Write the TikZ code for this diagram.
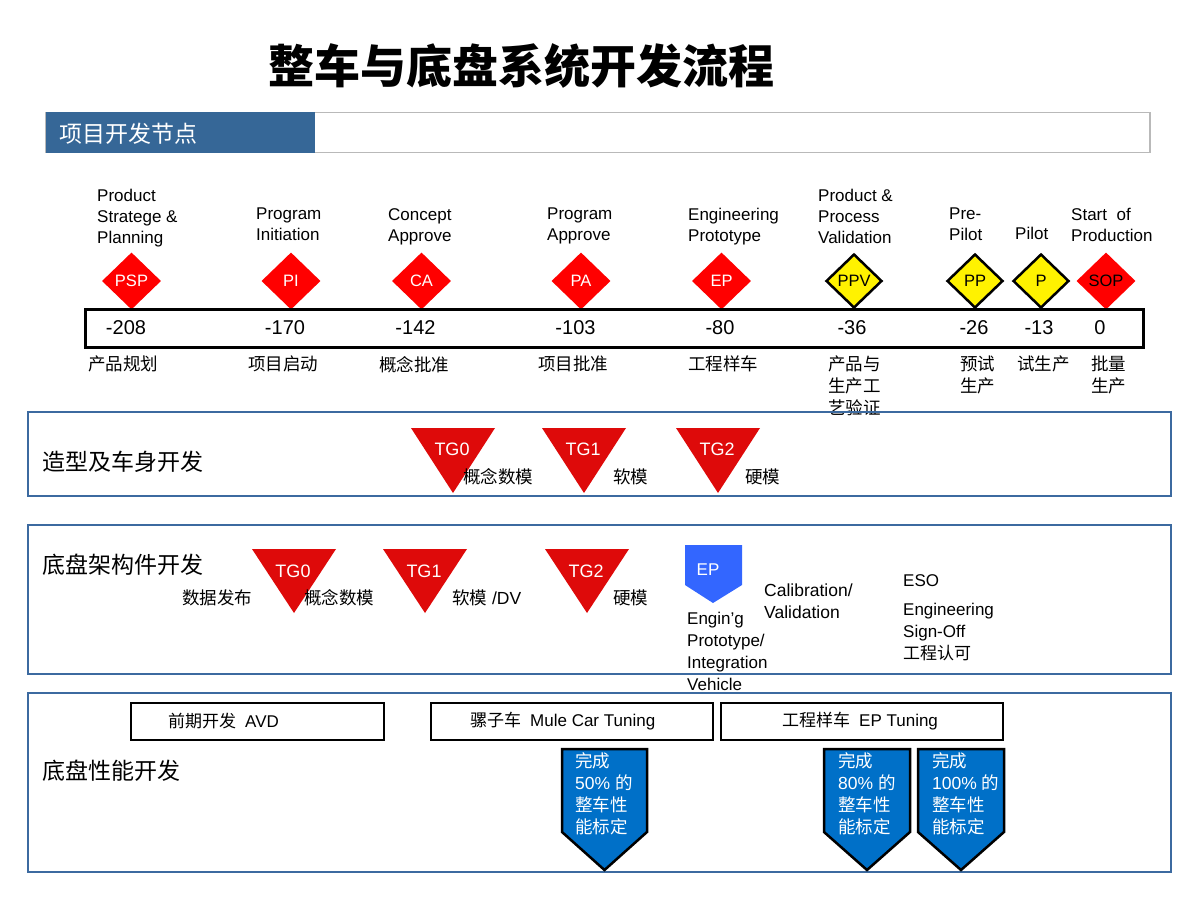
\documentclass[tikz,border=0pt]{standalone}
\usepackage{fontspec}
\setmainfont{Liberation Sans}
\newfontfamily\cjk{Noto Sans CJK SC}
\usetikzlibrary{shapes.geometric}
\definecolor{hdrblue}{RGB}{54,103,151}
\definecolor{secblue}{RGB}{60,106,160}
\definecolor{tgred}{RGB}{222,10,10}
\definecolor{epblue}{RGB}{51,102,255}
\definecolor{calblue}{RGB}{0,112,200}
\definecolor{hdrgray}{RGB}{185,185,185}
\begin{document}
\begin{tikzpicture}[x=1pt,y=-1pt,
  lbl/.style={inner sep=0,anchor=north west,align=left,font=\fontsize{17}{21}\selectfont},
  zhlbl/.style={inner sep=0,anchor=north west,align=left,font=\cjk\fontsize{17.5}{22}\selectfont},
  num/.style={inner sep=0,font=\fontsize{20}{24}\selectfont},
  msred/.style={diamond,fill=red,minimum width=59,minimum height=57,inner sep=0,text=white,font=\fontsize{16.5}{18}\selectfont},
  msyel/.style={diamond,fill=yellow,draw=black,line width=2.5,minimum width=56,minimum height=54,inner sep=0,text=black,font=\fontsize{16.5}{18}\selectfont},
  secbox/.style={draw=secblue,line width=2.5},
  seclbl/.style={inner sep=0,anchor=west,font=\cjk\fontsize{23}{26}\selectfont},
  tgshape/.style={fill=tgred},
  tgtxt/.style={inner sep=0,text=white,font=\fontsize{18}{20}\selectfont},
  tglbl/.style={inner sep=0,anchor=west,font=\fontsize{17.5}{22}\selectfont},
  barbox/.style={draw=black,line width=2.5},
  bartxt/.style={inner sep=0,anchor=west,font=\fontsize{17}{21}\selectfont},
  calarrow/.style={fill=calblue,draw=black,line width=2.5,line join=miter},
  caltxt/.style={inner sep=0,anchor=north west,align=left,text=white,font=\fontsize{17.5}{22}\selectfont}
]
\useasboundingbox (0,0) rectangle (1200,900);

% title
\node[font=\cjk\bfseries\fontsize{46}{50}\selectfont] (title) at (521,66) {整车与底盘系统开发流程};

% header bar
\draw[hdrgray,line width=1.5] (46,112.5) rectangle (1150,152.5);
\fill[hdrblue] (46,112) rectangle (315,153);
\node[anchor=west,inner sep=0,text=white,font=\cjk\fontsize{23}{26}\selectfont] (hdr) at (59,134) {项目开发节点};

% milestone labels
\node[lbl] (l1) at (97,189) {Product\\Stratege \&\\Planning};
\node[lbl] (l2) at (256,208) {Program\\Initiation};
\node[lbl] (l3) at (388,208) {Concept\\Approve};
\node[lbl] (l4) at (547,208) {Program\\Approve};
\node[lbl] (l5) at (688,208) {Engineering\\Prototype};
\node[lbl] (l6) at (818,189) {Product \&\\Process\\Validation};
\node[lbl] (l7) at (949,208) {Pre-\\Pilot};
\node[lbl] (l8) at (1015,227) {Pilot};
\node[lbl] (l9) at (1071,208) {Start\ \ of\\Production};

% milestone diamonds
\node[msred] (psp) at (131.5,281) {PSP};
\node[msred] (pi) at (291,281) {PI};
\node[msred] (ca) at (421.5,281) {CA};
\node[msred] (pa) at (581,281) {PA};
\node[msred] (ep) at (721.5,281) {EP};
\node[msyel] (ppv) at (854,281) {PPV};
\node[msyel] (pp) at (975,281) {PP};
\node[msyel] (p) at (1041,281) {P};
\node[msred,text=black] (sop) at (1106,281) {SOP};

% timeline box
\draw[black,line width=3] (85,309) rectangle (1143,347);
\node[num] (n1) at (126,328) {-208};
\node[num] (n2) at (285,328) {-170};
\node[num] (n3) at (415.5,328) {-142};
\node[num] (n4) at (575.5,328) {-103};
\node[num] (n5) at (720,328) {-80};
\node[num] (n6) at (852,328) {-36};
\node[num] (n7) at (974,328) {-26};
\node[num] (n8) at (1039,328) {-13};
\node[num] (n9) at (1100,328) {0};

% chinese labels
\node[zhlbl] (z1) at (88,356) {产品规划};
\node[zhlbl] (z2) at (248,356) {项目启动};
\node[zhlbl] (z3) at (379,356) {概念批准};
\node[zhlbl] (z4) at (538,356) {项目批准};
\node[zhlbl] (z5) at (688,356) {工程样车};
\node[zhlbl] (z6) at (828,356) {产品与\\生产工\\艺验证};
\node[zhlbl] (z7) at (960,356) {预试\\生产};
\node[zhlbl] (z8) at (1017,356) {试生产};
\node[zhlbl] (z9) at (1091,356) {批量\\生产};

% section 1
\draw[secbox] (28,412) rectangle (1171,496);
\node[seclbl] (s1) at (42,462) {造型及车身开发};
\foreach \cx/\nm/\tx in {453/a0/TG0,584/a1/TG1,718/a2/TG2}{
  \fill[tgshape] (\cx-42,428) -- (\cx+42,428) -- (\cx,493) -- cycle;
  \node[tgtxt] (tg\nm) at (\cx-1,449) {\tx};
}
\node[tglbl] (t1a) at (463,477) {\cjk 概念数模};
\node[tglbl] (t1b) at (613,477) {\cjk 软模};
\node[tglbl] (t1c) at (745,477) {\cjk 硬模};

% section 2
\draw[secbox] (28,525) rectangle (1171,674);
\node[seclbl] (s2) at (42,565) {底盘架构件开发};
\foreach \cx/\nm/\tx in {294/b0/TG0,425/b1/TG1,587/b2/TG2}{
  \fill[tgshape] (\cx-42,549) -- (\cx+42,549) -- (\cx,613) -- cycle;
  \node[tgtxt] (tg\nm) at (\cx-1,571) {\tx};
}
\node[tglbl] (t2a) at (182,598) {\cjk 数据发布};
\node[tglbl] (t2b) at (304,598) {\cjk 概念数模};
\node[tglbl] (t2c) at (452,598) {{\cjk 软模} /DV};
\node[tglbl] (t2d) at (613,598) {\cjk 硬模};
\fill[epblue] (685,545) -- (742,545) -- (742,585) -- (713,603) -- (685,585) -- cycle;
\node[inner sep=0,text=white,font=\fontsize{17}{20}\selectfont] (eptxt) at (708,570) {EP};
\node[lbl,font=\fontsize{17}{22}\selectfont] (eplbl) at (687,612) {Engin’g\\Prototype/\\Integration\\Vehicle};
\node[lbl,font=\fontsize{17.5}{22}\selectfont] (cal) at (764,584) {Calibration/\\Validation};
\node[lbl,font=\fontsize{17}{22}\selectfont] (eso) at (903,574) {ESO\\[7pt]Engineering\\Sign-Off\\{\cjk 工程认可}};

% section 3
\draw[secbox] (28,693) rectangle (1171,872);
\node[seclbl] (s3) at (42,771) {底盘性能开发};
\draw[barbox] (131,703) rectangle (384,740);
\node[bartxt] (avd) at (168,721.5) {{\cjk 前期开发}\hspace{9pt}AVD};
\draw[barbox] (431,703) rectangle (713,740);
\node[bartxt] (mule) at (470,721.5) {{\cjk 骡子车}\hspace{9pt}Mule Car Tuning};
\draw[barbox] (721,703) rectangle (1003,740);
\node[bartxt] (eptun) at (782,721.5) {{\cjk 工程样车}\hspace{9pt}EP Tuning};

\draw[calarrow] (562,749) -- (647,749) -- (647,832) -- (604.5,870) -- (562,832) -- cycle;
\draw[calarrow] (824,749) -- (910,749) -- (910,832) -- (867,870) -- (824,832) -- cycle;
\draw[calarrow] (918,749) -- (1004,749) -- (1004,832) -- (961,870) -- (918,832) -- cycle;
\node[caltxt] (c1) at (575,752) {{\cjk 完成}\\50\% {\cjk 的}\\{\cjk 整车性}\\{\cjk 能标定}};
\node[caltxt] (c2) at (838,752) {{\cjk 完成}\\80\% {\cjk 的}\\{\cjk 整车性}\\{\cjk 能标定}};
\node[caltxt] (c3) at (932,752) {{\cjk 完成}\\100\% {\cjk 的}\\{\cjk 整车性}\\{\cjk 能标定}};
\end{tikzpicture}
\end{document}
